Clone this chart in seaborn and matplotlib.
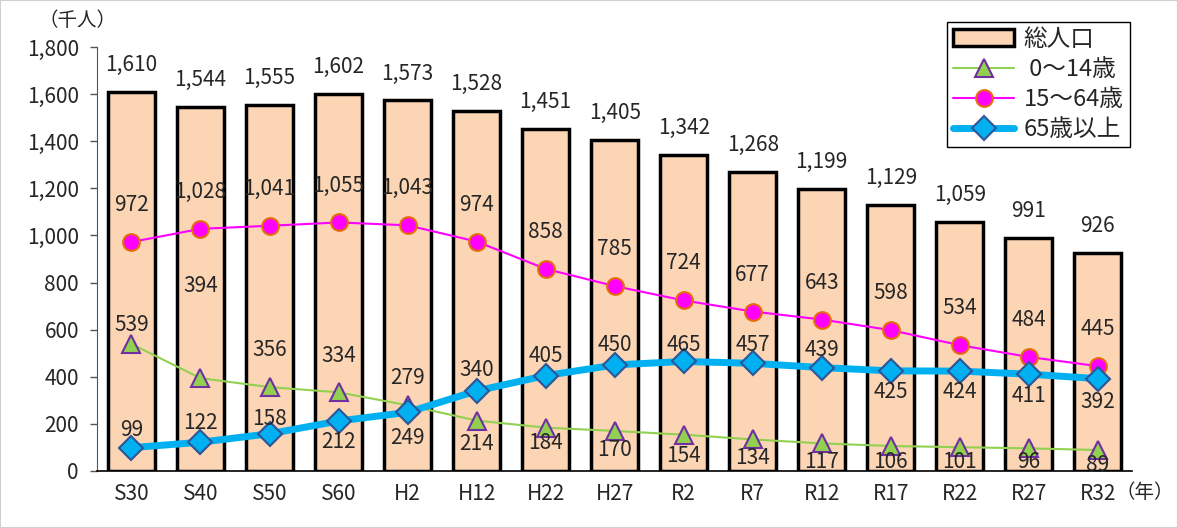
import matplotlib
matplotlib.use("Agg")
import matplotlib.pyplot as plt
import seaborn as sns
from matplotlib.lines import Line2D
from matplotlib.patches import Patch, Rectangle
from matplotlib.ticker import FuncFormatter

sns.set_style("white")
plt.rcParams["font.family"] = ["Noto Sans CJK JP", "DejaVu Sans"]

# ---------- data ----------
years = ["S30", "S40", "S50", "S60", "H2", "H12", "H22", "H27",
         "R2", "R7", "R12", "R17", "R22", "R27", "R32"]
total = [1610, 1544, 1555, 1602, 1573, 1528, 1451, 1405,
         1342, 1268, 1199, 1129, 1059, 991, 926]
age0_14 = [539, 394, 356, 334, 279, 214, 184, 170,
           154, 134, 117, 106, 101, 96, 89]
age15_64 = [972, 1028, 1041, 1055, 1043, 974, 858, 785,
            724, 677, 643, 598, 534, 484, 445]
age65 = [99, 122, 158, 212, 249, 340, 405, 450,
         465, 457, 439, 425, 424, 411, 392]

# label offsets in pixels (positive = above the point)
off0_14 = [19, 92, 37, 36, 27, -23, -15, -19, -21, -19, -19, -16, -15, -14, -15]
off65 = [18, 19, 15, -21, -26, 21, 20, 20, 16, 18, 18, -21, -21, -22, -23]

C_BAR = "#FCD5B5"
C_G = "#92D050"
C_M = "#FF00FF"
C_B = "#00B0F0"

fig = plt.figure(figsize=(11.78, 5.28), dpi=100)
ax = fig.add_axes([0.0823, 0.108, 0.879, 0.803])

sns.barplot(x=years, y=total, color=C_BAR, saturation=1, edgecolor="black",
            linewidth=2.5, width=0.68, ax=ax, zorder=1)

sns.lineplot(x=years, y=age0_14, sort=False, color=C_G, linewidth=1.5,
             marker="^", markersize=13, markerfacecolor=C_G,
             markeredgecolor="#7030A0", markeredgewidth=1.5, ax=ax, zorder=3)
sns.lineplot(x=years, y=age15_64, sort=False, color=C_M, linewidth=1.5,
             marker="o", markersize=12, markerfacecolor=C_M,
             markeredgecolor="#E46C0A", markeredgewidth=1.5, ax=ax, zorder=3)
sns.lineplot(x=years, y=age65, sort=False, color=C_B, linewidth=5,
             marker="D", markersize=12, markerfacecolor=C_B,
             markeredgecolor="#2F5597", markeredgewidth=1.5, ax=ax, zorder=4)

px = 0.72  # pixel -> point
fs = 15
for i, v in enumerate(total):
    ax.annotate(f"{v:,}", (i, v), xytext=(0, 27 * px), textcoords="offset points",
                ha="center", va="center", fontsize=fs, zorder=6)
for i, v in enumerate(age15_64):
    ax.annotate(f"{v:,}", (i, v), xytext=(0, 37 * px), textcoords="offset points",
                ha="center", va="center", fontsize=fs, zorder=6)
for i, (v, o) in enumerate(zip(age0_14, off0_14)):
    ax.annotate(f"{v:,}", (i, v), xytext=(0, o * px), textcoords="offset points",
                ha="center", va="center", fontsize=fs, zorder=6)
for i, (v, o) in enumerate(zip(age65, off65)):
    ax.annotate(f"{v:,}", (i, v), xytext=(0, o * px), textcoords="offset points",
                ha="center", va="center", fontsize=fs, zorder=6)

ax.set_xlim(-0.5, 14.5)
ax.set_ylim(0, 1800)
ax.set_yticks(range(0, 1801, 200))
ax.yaxis.set_major_formatter(FuncFormatter(lambda v, p: f"{int(v):,}"))
ax.tick_params(axis="y", direction="out", length=5, width=1, color="#555555",
               labelsize=15, pad=8, left=True)
ax.tick_params(axis="x", length=0, labelsize=15, pad=9)
ax.set_xlabel("")
ax.set_ylabel("")
for s in ["top", "right"]:
    ax.spines[s].set_visible(False)
ax.spines["left"].set_color("#555555")
ax.spines["bottom"].set_color("black")
ax.spines["bottom"].set_linewidth(1.2)

handles = [
    Patch(facecolor=C_BAR, edgecolor="black", linewidth=2.5),
    Line2D([], [], color=C_G, linewidth=1.5, marker="^", markersize=13,
           markerfacecolor=C_G, markeredgecolor="#7030A0", markeredgewidth=1.5),
    Line2D([], [], color=C_M, linewidth=1.5, marker="o", markersize=12,
           markerfacecolor=C_M, markeredgecolor="#E46C0A", markeredgewidth=1.5),
    Line2D([], [], color=C_B, linewidth=5, marker="D", markersize=12,
           markerfacecolor=C_B, markeredgecolor="#2F5597", markeredgewidth=1.5),
]
labels = ["総人口", " 0～14歳", "15～64歳", "65歳以上"]
leg = ax.legend(handles, labels, loc="upper left", bbox_to_anchor=(0.821, 1.059),
                fontsize=17, frameon=True, fancybox=False, edgecolor="black",
                framealpha=1, handlelength=2.6, handletextpad=0.4,
                labelspacing=0.3, borderpad=0.25, borderaxespad=0)
leg.get_frame().set_linewidth(1)
leg.set_zorder(10)

fig.text(0.033, 0.962, "（千人）", ha="left", va="center", fontsize=14)
fig.text(0.997, 0.068, "（年）", ha="right", va="center", fontsize=14)

fig.patches.append(Rectangle((0, 0), 1, 1, transform=fig.transFigure, fill=False,
                             edgecolor="#D0D0D0", linewidth=1.5))

fig.savefig("out.png", dpi=100, facecolor="white")
